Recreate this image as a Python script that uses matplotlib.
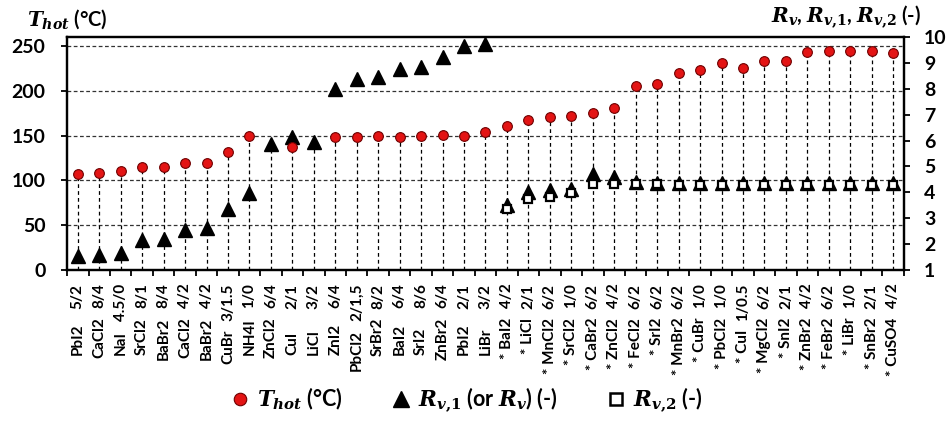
import numpy as np
import matplotlib
matplotlib.use("Agg")
import matplotlib.pyplot as plt
from matplotlib.lines import Line2D

nan = np.nan

# salt name / ratio label per category ("* " marks the second group)
names = ["PbI2", "CaCl2", "NaI", "SrCl2", "BaBr2", "CaCl2", "BaBr2", "CuBr", "NH4I",
         "ZnCl2", "CuI", "LiCl", "ZnI2", "PbCl2", "SrBr2", "BaI2", "SrI2", "ZnBr2",
         "PbI2", "LiBr",
         "* BaI2", "* LiCl", "* MnCl2", "* SrCl2", "* CaBr2", "* ZnCl2", "* FeCl2",
         "* SrI2", "* MnBr2", "* CuBr", "* PbCl2", "* CuI", "* MgCl2", "* SnI2",
         "* ZnBr2", "* FeBr2", "* LiBr", "* SnBr2", "* CuSO4"]
ratios = ["5/2", "8/4", "4.5/0", "8/1", "8/4", "4/2", "4/2", "3/1.5", "1/0", "6/4",
          "2/1", "3/2", "6/4", "2/1,5", "8/2", "6/4", "8/6", "6/4", "2/1", "3/2",
          "4/2", "2/1", "6/2", "1/0", "6/2", "4/2", "6/2", "6/2", "6/2", "1/0",
          "1/0", "1/0.5", "6/2", "2/1", "4/2", "6/2", "1/0", "2/1", "4/2"]

# T_hot (degC), left axis
t_hot = [107, 108, 110, 115, 115, 119, 120, 132, 150, nan, 137, nan, 148, 149, 150,
         149, 150, 151, 150, 154,
         161, 168, 171, 172, 175, 181, 205, 208, 220, 223, 231, 226, 233, 233,
         243, 245, 244, 244, 242]
# R_v,1 (or R_v), right axis
rv1 = [1.55, 1.58, 1.65, 2.17, 2.20, 2.56, 2.62, 3.34, 3.99, 5.87, 6.13, 5.96, 7.98,
       8.37, 8.44, 8.76, 8.83, 9.25, 9.66, 9.74,
       3.53, 4.03, 4.09, 4.14, 4.70, 4.61, 4.40, 4.38, 4.35, 4.35, 4.35, 4.35, 4.35,
       4.35, 4.35, 4.35, 4.35, 4.35, 4.35]
# R_v,2, right axis
rv2 = [nan] * 20 + [3.34, 3.75, 3.83, 3.96, 4.31, 4.31, 4.31, 4.31, 4.30, 4.30,
                    4.30, 4.30, 4.30, 4.30, 4.30, 4.30, 4.30, 4.30, 4.30]

plt.rcParams.update({
    "font.family": ["Lato", "DejaVu Sans"],
    "font.weight": "bold",
    "mathtext.fontset": "custom",
    "mathtext.it": "DejaVu Serif:bold:italic",
    "mathtext.rm": "DejaVu Serif:bold",
    "mathtext.bf": "DejaVu Serif:bold",
})

n = len(names)
x = np.arange(n) + 0.5
t_arr = np.array(t_hot, dtype=float)
rv1_arr = np.array(rv1, dtype=float)
rv2_arr = np.array(rv2, dtype=float)

fig = plt.figure(figsize=(9.51, 4.25), dpi=100)
ax = fig.add_axes([0.0705, 0.3647, 0.8800, 0.5480])
ax2 = ax.twinx()

ax.set_xlim(0, n)
ax.set_ylim(0, 260)
ax2.set_ylim(1, 10)

# grid
for yv in [50, 100, 150, 200, 250]:
    ax.axhline(yv, color="#333333", lw=0.9, ls=(0, (3, 2)), zorder=1)

# drop lines: from the circle, or from the triangle when no circle
has_t = ~np.isnan(t_arr)
ax.vlines(x[has_t], 0, t_arr[has_t], color="black", lw=0.9, ls=(0, (3, 2.5)), zorder=2)
ax.vlines(x[~has_t], 1, rv1_arr[~has_t], color="black", lw=0.9, ls=(0, (3, 2.5)),
          zorder=2, transform=ax2.transData)

# markers (R_v on the right scale, drawn in ax for stacking order)
ax.plot(x, rv1_arr, ls="none", marker="^", ms=9.5, color="black", mec="black",
        zorder=3, transform=ax2.transData, clip_on=False)
ax.plot(x, rv2_arr, ls="none", marker="s", ms=5.5, mfc="white", mec="black",
        mew=1.6, zorder=4, transform=ax2.transData, clip_on=False)
ax.plot(x, t_arr, ls="none", marker="o", ms=7, mfc="#e31414", mec="#6e0000",
        mew=0.8, zorder=5, clip_on=False)

# axes styling
ax.set_xticks(np.arange(n + 1))
ax.set_xticklabels([])
ax.tick_params(axis="x", direction="out", length=4, width=1.3, color="black")
ax.set_yticks([0, 50, 100, 150, 200, 250])
ax.tick_params(axis="y", direction="out", length=4.5, width=1.3, labelsize=14, pad=11)
ax2.set_yticks(range(1, 11))
ax2.tick_params(axis="y", direction="out", length=4.5, width=1.3, labelsize=14, pad=10)
for a in (ax, ax2):
    for sp in a.spines.values():
        sp.set_linewidth(1.6)
        sp.set_color("black")
    for lab in a.get_yticklabels():
        lab.set_fontweight("bold")

# category labels: ratio near axis, salt name further down
trans = ax.get_xaxis_transform()
lab_fs = 11
ratio_texts = []
for xi, rt in zip(x, ratios):
    ratio_texts.append(ax.text(xi, -0.058, rt, rotation=90, ha="center", va="top",
                               fontsize=lab_fs, fontweight="bold", transform=trans))

fig.canvas.draw()
renderer = fig.canvas.get_renderer()
inv = ax.transAxes.inverted()
gap = 9  # px between ratio and salt name when the ratio is long
for xi, nm, rtxt in zip(x, names, ratio_texts):
    rb = rtxt.get_window_extent(renderer).y0 - gap
    rb_ax = inv.transform((0, rb))[1]
    if nm.startswith("*"):
        ax.text(xi, min(-0.205, rb_ax), nm, rotation=90, ha="center", va="top",
                fontsize=lab_fs, fontweight="bold", transform=trans)
    else:
        t = ax.text(xi, -0.363, nm, rotation=90, ha="center", va="bottom",
                    fontsize=lab_fs, fontweight="bold", transform=trans)
        if t.get_window_extent(renderer).y1 > rb:
            t.set_y(rb_ax)
            t.set_va("top")

# axis titles
fig.text(0.028, 0.955, r"$T_{hot}$ (°C)", fontsize=14.5, fontweight="bold",
         ha="left", va="center")
fig.text(0.969, 0.958, r"$R_v$, $R_{v{,}1}$, $R_{v{,}2}$ (-)", fontsize=14.5,
         fontweight="bold", ha="right", va="center")

# legend
handles = [
    Line2D([], [], ls="none", marker="o", ms=9, mfc="#e31414", mec="#6e0000", mew=0.8),
    Line2D([], [], ls="none", marker="^", ms=11, color="black"),
    Line2D([], [], ls="none", marker="s", ms=8, mfc="white", mec="black", mew=1.8),
]
labels = [r"$T_{hot}$ (°C)", r"$R_{v{,}1}$ (or $R_v$) (-)", r"$R_{v{,}2}$ (-)"]
leg = fig.legend(handles, labels, loc="center", bbox_to_anchor=(0.49, 0.058),
                 ncol=3, frameon=False, fontsize=15.5, handletextpad=0.3,
                 columnspacing=2.2, handlelength=1.0)
for t in leg.get_texts():
    t.set_fontweight("bold")

fig.savefig("out.png", dpi=100)
